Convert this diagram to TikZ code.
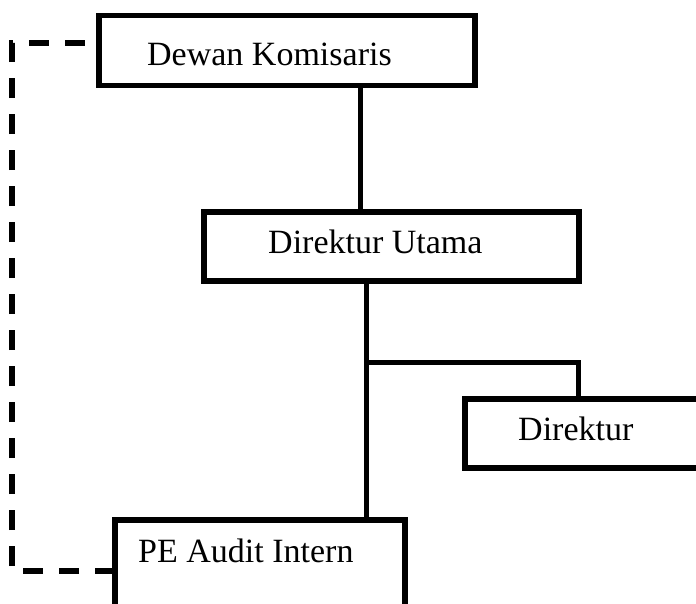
\documentclass[tikz,border=0pt]{standalone}
\usepackage{fontspec}
\setmainfont{Liberation Serif}
\begin{document}
\begin{tikzpicture}[x=1pt,y=-1pt,
  box/.style={draw,line width=5.5pt,rectangle,inner sep=0pt,outer sep=0pt,fill=white},
  lbl/.style={anchor=base west,inner sep=0pt,font=\fontsize{34}{40}\selectfont},
  conn/.style={line width=5pt},
  dashconn/.style={line width=5.5pt,dash pattern=on 20pt off 16pt}]
\useasboundingbox (0,0) rectangle (696,603);
\node[box,minimum width=376pt,minimum height=70pt] (dk) at (287,50.5) {};
\node[box,minimum width=375pt,minimum height=69pt] (du) at (391.5,246.5) {};
\node[box,minimum width=270pt,minimum height=69pt] (dir) at (600,433.5) {};
\node[box,minimum width=290pt,minimum height=120pt] (pe) at (260,580) {};
\node[lbl] (dkt) at (147,65) {Dewan Komisaris};
\node[lbl] (dut) at (268,253) {Direktur Utama};
\node[lbl] (dirt) at (518,440) {Direktur};
\node[lbl] (pet) at (138,562) {PE Audit Intern};
\coordinate (br) at (366,362);
\coordinate (cl1) at (12,571);
\coordinate (cl2) at (12,43);
\draw[conn] (dk.south -| 360,0) -- (du.north -| 360,0);
\draw[conn] (du.south -| 366,0) -- (pe.north -| 366,0);
\draw[conn] (br) -| (dir.north -| 578,0);
\draw[dashconn] (pe.west |- 0,571) -- (cl1) -- (cl2) -- (dk.west |- 0,43);
\end{tikzpicture}
\end{document}
